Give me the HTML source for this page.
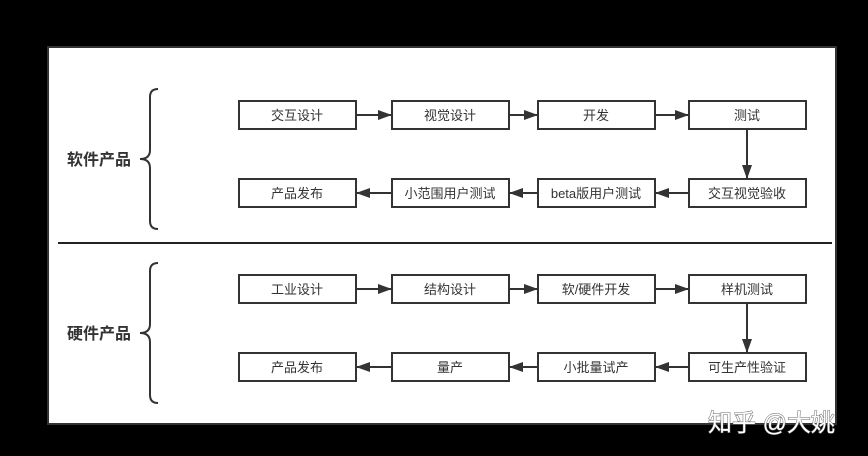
<!DOCTYPE html>
<html><head><meta charset="utf-8"><style>
html,body{margin:0;padding:0;background:#000;width:868px;height:456px;overflow:hidden}
svg text{font-family:"Liberation Sans","Noto Sans CJK SC",sans-serif}
</style></head><body>
<svg width="868" height="456" xmlns="http://www.w3.org/2000/svg">
<defs><marker id="a" markerWidth="14" markerHeight="10" refX="13" refY="5" orient="auto" markerUnits="userSpaceOnUse"><path d="M0,0 L14,5 L0,10 z" fill="#333"/></marker></defs>
<rect x="0" y="0" width="868" height="456" fill="#000"/>
<rect x="48" y="47" width="788" height="377" fill="#fff" stroke="#333" stroke-width="2"/>
<line x1="58" y1="243" x2="832" y2="243" stroke="#222" stroke-width="2"/>
<g fill="none" stroke="#333" stroke-width="2">
<path d="M158,89 Q150,89 150,97 L150,150 Q150,159 140,159 Q150,159 150,168 L150,221 Q150,229 158,229"/>
<path d="M158,263 Q150,263 150,271 L150,324 Q150,333 140,333 Q150,333 150,342 L150,395 Q150,403 158,403"/>
</g>
<g font-size="16" font-weight="bold" fill="#333">
<text x="67" y="165">软件产品</text>
<text x="67" y="339">硬件产品</text>
</g>
<g fill="#fff" stroke="#333" stroke-width="2">
<rect x="239" y="101" width="117" height="28"/><rect x="392" y="101" width="117" height="28"/><rect x="538" y="101" width="117" height="28"/><rect x="689" y="101" width="117" height="28"/>
<rect x="239" y="179" width="117" height="28"/><rect x="392" y="179" width="117" height="28"/><rect x="538" y="179" width="117" height="28"/><rect x="689" y="179" width="117" height="28"/>
<rect x="239" y="275" width="117" height="28"/><rect x="392" y="275" width="117" height="28"/><rect x="538" y="275" width="117" height="28"/><rect x="689" y="275" width="117" height="28"/>
<rect x="239" y="353" width="117" height="28"/><rect x="392" y="353" width="117" height="28"/><rect x="538" y="353" width="117" height="28"/><rect x="689" y="353" width="117" height="28"/>
</g>
<g font-size="13" fill="#333" text-anchor="middle">
<text x="297" y="120">交互设计</text><text x="450" y="120">视觉设计</text><text x="596" y="120">开发</text><text x="747" y="120">测试</text>
<text x="297" y="198">产品发布</text><text x="450" y="198">小范围用户测试</text><text x="596" y="198">beta版用户测试</text><text x="747" y="198">交互视觉验收</text>
<text x="297" y="294">工业设计</text><text x="450" y="294">结构设计</text><text x="596" y="294">软/硬件开发</text><text x="747" y="294">样机测试</text>
<text x="297" y="372">产品发布</text><text x="450" y="372">量产</text><text x="596" y="372">小批量试产</text><text x="747" y="372">可生产性验证</text>
</g>
<g stroke="#333" stroke-width="2" marker-end="url(#a)">
<line x1="356" y1="115" x2="391" y2="115"/><line x1="509" y1="115" x2="537" y2="115"/><line x1="655" y1="115" x2="688" y2="115"/>
<line x1="747" y1="129" x2="747" y2="178"/>
<line x1="689" y1="193" x2="656" y2="193"/><line x1="538" y1="193" x2="510" y2="193"/><line x1="392" y1="193" x2="357" y2="193"/>
<line x1="356" y1="289" x2="391" y2="289"/><line x1="509" y1="289" x2="537" y2="289"/><line x1="655" y1="289" x2="688" y2="289"/>
<line x1="747" y1="303" x2="747" y2="352"/>
<line x1="689" y1="367" x2="656" y2="367"/><line x1="538" y1="367" x2="510" y2="367"/><line x1="392" y1="367" x2="357" y2="367"/>
</g>
<text x="708" y="431" font-size="24" fill="#fff" stroke="#666" stroke-width="1" paint-order="stroke">知乎 @大姚</text>
</svg>
</body></html>
